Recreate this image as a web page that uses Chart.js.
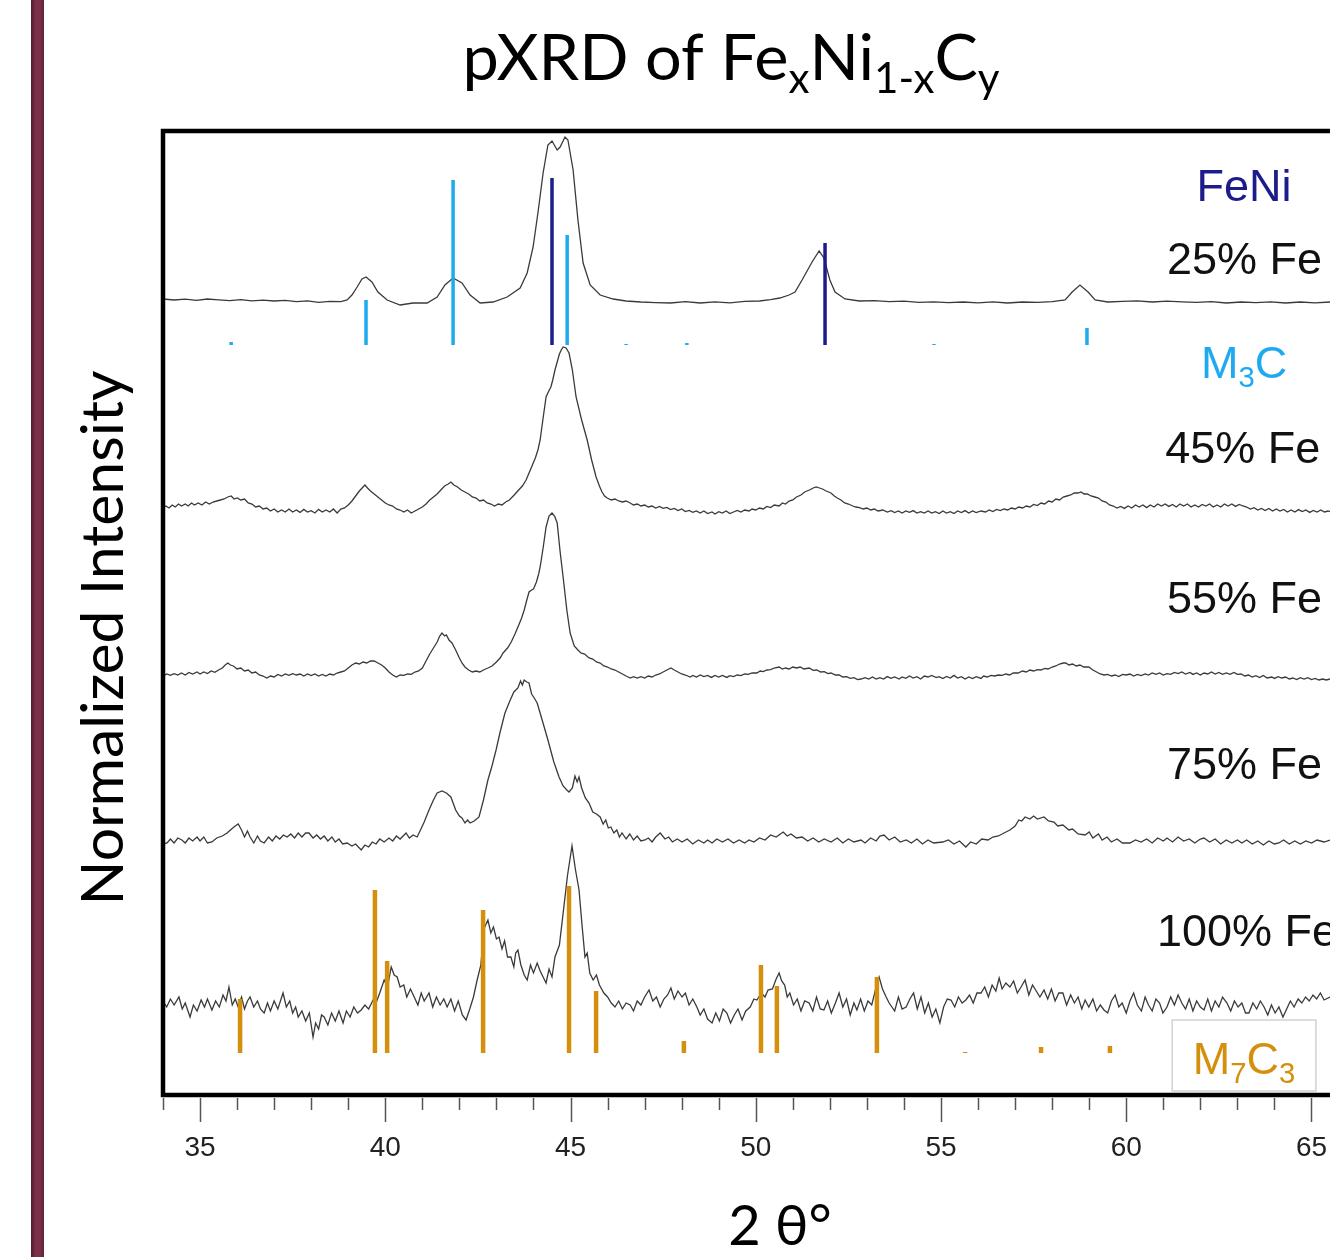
<!DOCTYPE html>
<html>
<head>
<meta charset="utf-8">
<script src="https://cdn.jsdelivr.net/npm/chart.js@4.4.0/dist/chart.umd.min.js"></script>
<style>
  html, body { margin: 0; padding: 0; background: #fff; overflow: hidden; }
  #wrap { position: relative; width: 1330px; height: 1257px; }
  #bar { position: absolute; left: 31px; top: 0; width: 13px; height: 1257px;
         background: linear-gradient(to right, #4c1a2b, #7c2f48 35%, #7c2f48 70%, #5e2236); }
  #xrd { position: absolute; left: 0; top: 0; }
</style>
</head>
<body>
<div id="wrap">
  <div id="bar"></div>
  <canvas id="xrd" width="1330" height="1257"></canvas>
</div>
<script>
// 2-theta range of the plot
var thetaMin = 34;
var thetaMax = 65.5;
var intensityMax = 482;

// vertical offsets of the stacked patterns
var sampleNames   = ['25% Fe', '45% Fe', '55% Fe', '75% Fe', '100% Fe'];
var sampleOffsets = [396.5, 292.5, 209.5, 126.5, 45];

// [2theta, intensity above the pattern's own baseline]
var pattern25 = [[34.0,1.5],[34.3,1.0],[34.6,1.4],[34.9,0.8],[35.2,1.5],[35.5,1.1],[35.8,0.7],[36.1,1.2],[36.4,0.6],[36.7,0.9],
  [37.0,0.5],[37.3,0.8],[37.6,0.2],[37.9,0.6],[38.2,-0.2],[38.5,0.3],[38.8,0.2],[38.97,1.0],[39.1,3.5],[39.24,7.5],
  [39.37,11.5],[39.48,12.5],[39.64,10],[39.8,5],[40.05,1],[40.4,-1.5],[40.75,-0.5],[41.13,-0.5],[41.4,2.5],[41.61,8.5],
  [41.83,12],[42.07,9.5],[42.29,3.5],[42.56,-0.5],[42.91,0],[43.29,2.5],[43.64,7],[43.83,14.5],[43.99,27.5],[44.12,44.5],
  [44.26,64.5],[44.39,78.5],[44.5,80.5],[44.64,76],[44.72,77.5],[44.85,82.5],[44.93,81],[45.07,66],[45.2,41],[45.34,19.5],
  [45.53,8.5],[45.8,3.5],[46.15,1.5],[46.5,0.5],[46.9,0],[47.3,-0.3],[47.7,-0.5],[48.1,0.2],[48.5,-0.5],[48.9,0.1],
  [49.3,-0.4],[49.7,0.3],[50.1,0.5],[50.4,1.2],[50.65,2],[50.9,3.5],[51.06,5],[51.25,11],[51.52,20],[51.71,25.5],
  [51.84,22],[52.0,11],[52.14,5],[52.41,1.5],[52.8,0.5],[53.2,0.7],[53.6,0.2],[54.0,0.4],[54.4,-0.2],[54.8,0.1],
  [55.2,-0.3],[55.6,0],[56.0,-0.4],[56.4,0.1],[56.8,-0.5],[57.2,0],[57.6,-0.2],[58.0,0.2],[58.35,1],[58.54,5],
  [58.75,8.5],[58.97,5],[59.16,1],[59.5,0],[59.9,0.3],[60.3,0.6],[60.7,0],[61.1,0.4],[61.5,0.1],[61.9,-0.2],
  [62.3,0.2],[62.7,-0.5],[63.1,0],[63.5,-0.3],[63.9,0.1],[64.3,-0.5],[64.7,0],[65.1,-0.4],[65.5,0]];

var pattern45 = [[34.0,1],[34.08,2],[34.16,1],[34.25,2.5],[34.33,1.5],[34.42,3],[34.5,2],[34.6,3],[34.68,2],[34.77,3.5],
  [34.85,2.5],[34.95,3.5],[35.05,2.5],[35.15,4],[35.25,3],[35.35,4],[35.45,4.5],[35.55,5],[35.65,5.5],[35.75,6.5],
  [35.84,7],[35.92,5.5],[36.0,6],[36.1,5],[36.2,5.5],[36.3,3.5],[36.4,3],[36.5,1.5],[36.6,2],[36.7,0.5],
  [36.8,1],[36.9,-0.5],[37.0,0.5],[37.1,-1],[37.2,0],[37.3,-1],[37.4,0.5],[37.5,-1],[37.6,0],[37.7,-1.2],
  [37.8,0.3],[37.9,-1],[38.0,-0.3],[38.1,-1.5],[38.2,0.3],[38.3,-1],[38.4,0],[38.5,-1],[38.6,0.5],[38.7,-1.5],
  [38.8,0.5],[38.9,1],[39.0,2.5],[39.1,4.5],[39.2,7],[39.3,9.5],[39.4,11.5],[39.45,12.5],[39.52,11],[39.6,9.5],
  [39.7,8],[39.8,6.5],[39.9,5],[40.0,3.5],[40.1,2.5],[40.2,2],[40.3,0.5],[40.4,0],[40.5,-1],[40.6,0],
  [40.7,-1.5],[40.8,-0.5],[40.9,0.5],[41.0,1.5],[41.1,3],[41.2,5],[41.3,6.5],[41.4,8],[41.5,10],[41.6,12],
  [41.7,13],[41.77,14],[41.85,12.5],[41.95,11.5],[42.05,10],[42.15,9],[42.25,8],[42.35,6.5],[42.45,6],[42.55,4.5],
  [42.65,5],[42.75,3.5],[42.85,3],[42.95,2],[43.05,3],[43.15,2.5],[43.25,4],[43.35,5],[43.48,7.5],[43.6,10],
  [43.7,12],[43.8,15],[43.88,18.5],[43.96,22],[44.05,26],[44.12,30],[44.18,35],[44.26,46],[44.34,56.5],[44.4,59],
  [44.47,61.5],[44.52,65],[44.58,70],[44.64,74],[44.7,78],[44.75,80],[44.8,81.5],[44.88,81],[44.96,78.5],[45.05,70],
  [45.15,56.5],[45.3,45],[45.45,35],[45.57,25],[45.69,16.5],[45.78,12],[45.85,9],[45.92,7],[45.99,6],[46.1,5],
  [46.2,5.5],[46.3,4.5],[46.4,4],[46.5,4.5],[46.61,3.5],[46.7,2.5],[46.8,3],[46.9,2],[47.0,2.5],[47.1,1.5],
  [47.2,2],[47.3,1],[47.4,1.8],[47.5,0.8],[47.6,1.3],[47.7,0.2],[47.8,0.8],[47.9,-0.3],[48.0,0.5],[48.1,-0.8],
  [48.2,-0.2],[48.3,-1.2],[48.4,-0.5],[48.5,-1.5],[48.6,-0.5],[48.7,-1.8],[48.82,-1],[48.9,-2],[49.0,-0.8],[49.1,-1.5],
  [49.2,-0.5],[49.3,-1.8],[49.4,-1],[49.5,-0.2],[49.6,-1],[49.7,0],[49.82,-0.5],[49.9,0.5],[50.0,0],[50.1,1],
  [50.2,0.5],[50.3,1.8],[50.4,1.2],[50.5,2.5],[50.63,2],[50.72,3.5],[50.8,3],[50.9,4.5],[51.0,5],[51.1,6.5],
  [51.22,7.5],[51.32,9],[51.45,10],[51.55,11],[51.63,11.5],[51.72,11],[51.8,10.5],[51.9,9.5],[52.03,8.5],[52.12,7],
  [52.2,6],[52.3,5],[52.4,3.5],[52.5,3],[52.62,2],[52.7,1.5],[52.8,1.2],[52.9,0.5],[53.0,1],[53.1,0],
  [53.2,0.5],[53.3,-0.5],[53.43,0],[53.55,-1],[53.65,-0.3],[53.75,-1.3],[53.85,-0.5],[53.95,-1.5],[54.05,-0.5],[54.15,-1.2],
  [54.25,-0.3],[54.35,-1.5],[54.45,-0.8],[54.55,-1.5],[54.65,-0.5],[54.75,-1.5],[54.85,-0.8],[54.95,-1.8],[55.05,-0.5],[55.15,-1.5],
  [55.25,-0.8],[55.35,-1.8],[55.45,-0.5],[55.55,-1.3],[55.65,-0.3],[55.75,-1.5],[55.85,-0.5],[55.95,-1.3],[56.08,-0.5],[56.2,-1],
  [56.3,0],[56.4,-0.8],[56.5,0.3],[56.6,-0.3],[56.7,0.5],[56.8,0],[56.9,1],[57.0,0.5],[57.1,1.5],[57.2,1],
  [57.3,2],[57.4,1.5],[57.5,2.8],[57.6,2.2],[57.7,3.5],[57.8,3],[57.9,4.5],[58.0,4],[58.1,5.5],[58.2,5],
  [58.3,6.5],[58.4,7],[58.5,7.5],[58.6,8.5],[58.7,8.5],[58.78,9],[58.86,8],[58.95,8],[59.05,7],[59.15,6.5],
  [59.25,6],[59.35,4.5],[59.45,4],[59.55,2.5],[59.65,2],[59.75,1],[59.85,1.8],[59.95,0.8],[60.05,2],[60.15,1],
  [60.25,2.5],[60.35,1.5],[60.45,2.5],[60.55,1.2],[60.65,2.5],[60.75,1.5],[60.85,3],[60.95,2],[61.05,3],[61.15,1.8],
  [61.25,2.8],[61.35,1.5],[61.45,3],[61.55,2],[61.65,3],[61.75,1.5],[61.85,2.5],[61.95,1.5],[62.05,2.8],[62.15,2],
  [62.25,3],[62.35,1.5],[62.45,2.5],[62.55,1.5],[62.65,3],[62.75,2],[62.85,3],[62.95,1.8],[63.05,2.8],[63.15,2],
  [63.25,1.5],[63.35,0.5],[63.45,1.2],[63.55,0],[63.65,0.8],[63.75,-0.3],[63.85,0.8],[63.95,-0.5],[64.05,0.5],[64.15,-0.5],
  [64.25,0.3],[64.35,-1],[64.45,0],[64.55,-1],[64.65,0.2],[64.75,-0.8],[64.85,0],[64.95,-1.2],[65.05,-0.2],[65.15,-1],
  [65.25,0],[65.35,-1],[65.45,-0.5],[65.5,-0.8]];

var pattern55 = [[34.0,0],[34.1,1],[34.2,0.3],[34.3,1.2],[34.4,0.5],[34.5,1.5],[34.6,0.5],[34.7,1.8],[34.8,1],[34.92,2],
  [35.0,1],[35.1,2],[35.2,1.2],[35.3,2.5],[35.4,1.8],[35.5,3],[35.6,4],[35.68,5.5],[35.75,6.5],[35.82,5.5],
  [35.9,5],[36.0,3.5],[36.1,4],[36.2,2.5],[36.3,3],[36.4,1.5],[36.5,2],[36.6,0.5],[36.7,0],[36.8,-1],
  [36.9,0],[37.0,-0.5],[37.1,0.8],[37.2,0],[37.3,1],[37.4,0.3],[37.5,1.2],[37.6,0.5],[37.7,1],[37.8,0],
  [37.9,1],[38.0,0.2],[38.1,1],[38.2,0],[38.3,0.8],[38.4,0],[38.5,1],[38.6,0.5],[38.7,1.5],[38.8,2],
  [38.9,2.5],[39.0,4],[39.1,5.5],[39.2,6.5],[39.3,6],[39.4,7],[39.5,6.5],[39.6,7.5],[39.7,7.5],[39.8,6.5],
  [39.9,5.5],[40.0,4],[40.1,2],[40.2,0.5],[40.3,-0.5],[40.4,0.5],[40.5,0.3],[40.6,1],[40.7,0.8],[40.8,2],
  [40.9,2.5],[41.0,4],[41.1,7.5],[41.2,11],[41.3,14],[41.4,17],[41.47,20],[41.53,21.5],[41.6,20],[41.65,20.5],
  [41.72,18],[41.8,16.5],[41.9,13],[42.0,9],[42.07,6.5],[42.15,4.5],[42.25,3],[42.35,2],[42.45,2.5],[42.55,2],
  [42.65,3],[42.77,4],[42.88,5],[43.0,7],[43.1,9],[43.18,11.5],[43.3,14],[43.4,17],[43.5,21],[43.58,24.5],
  [43.68,29],[43.75,33],[43.82,38],[43.88,42],[43.95,43],[44.0,43.5],[44.08,47],[44.14,51],[44.18,54.5],[44.26,64],
  [44.34,74.5],[44.42,80],[44.5,81.5],[44.57,80],[44.64,76.5],[44.72,62],[44.8,49.5],[44.9,33],[44.99,21.5],[45.1,15],
  [45.2,13],[45.28,11.5],[45.38,11],[45.5,9],[45.6,8.5],[45.7,7],[45.8,6.5],[45.9,5],[46.0,4.5],[46.1,3.5],
  [46.2,3],[46.3,2],[46.4,1],[46.5,0],[46.61,-1],[46.7,-0.3],[46.8,-1],[46.9,-0.3],[47.0,-1],[47.1,0],
  [47.2,-0.5],[47.3,0.5],[47.4,1],[47.5,2],[47.6,3],[47.71,4],[47.8,3],[47.9,2],[48.0,1],[48.1,0.5],
  [48.23,-0.5],[48.3,0.3],[48.4,-0.5],[48.5,0.5],[48.6,-0.3],[48.7,0.3],[48.8,-0.7],[48.9,0.3],[49.0,-0.5],[49.1,0.3],
  [49.22,-0.7],[49.3,0.2],[49.4,-0.3],[49.5,0.5],[49.6,0.2],[49.7,1],[49.8,0.8],[49.9,1.5],[50.03,1.5],[50.12,2.5],
  [50.2,2.2],[50.3,3],[50.4,3.2],[50.5,4],[50.63,4.5],[50.72,3.5],[50.8,4],[50.9,3.5],[51.0,4.5],[51.1,4],
  [51.2,4.5],[51.3,3.5],[51.44,4],[51.55,2.8],[51.65,3],[51.75,2],[51.85,2.2],[51.95,1.2],[52.03,1.5],[52.15,0.5],
  [52.25,0.5],[52.35,-0.5],[52.45,-0.3],[52.55,-1.2],[52.65,-0.8],[52.75,-1.8],[52.84,-1.5],[52.95,-0.8],[53.05,-1.5],[53.15,-0.5],
  [53.25,-1.5],[53.35,-0.8],[53.45,-1.5],[53.55,-0.3],[53.65,-1.2],[53.75,-0.5],[53.87,-1.5],[53.95,-0.5],[54.05,-1.2],[54.15,0],
  [54.25,-1],[54.35,-0.3],[54.45,-1.5],[54.55,0],[54.65,-0.5],[54.75,0.3],[54.87,-0.8],[54.95,-0.3],[55.05,-1.3],[55.15,-0.2],
  [55.25,-1],[55.35,0.3],[55.45,-1],[55.55,-0.3],[55.65,-1.5],[55.75,-0.5],[55.85,-1.3],[55.95,-0.3],[56.08,-1.2],[56.15,0],
  [56.25,-0.5],[56.35,0.3],[56.45,0],[56.55,0.5],[56.65,0.3],[56.75,1],[56.85,0.5],[56.95,1.5],[57.08,1.5],[57.2,2.5],
  [57.3,2],[57.4,3],[57.5,2.5],[57.6,3.2],[57.7,3],[57.8,3.8],[57.89,3.5],[58.0,4.5],[58.1,5],[58.2,6],
  [58.3,6.5],[58.37,6.5],[58.45,5.5],[58.55,6],[58.65,5],[58.75,5.5],[58.85,4.5],[58.99,4.5],[59.1,3],[59.2,2],
  [59.3,1],[59.4,0.5],[59.5,0.8],[59.6,0],[59.7,0.5],[59.8,-0.3],[59.9,0.8],[60.0,0.5],[60.1,1],[60.2,0],
  [60.3,0.8],[60.4,0.2],[60.51,1],[60.6,0.5],[60.7,1.5],[60.8,0.8],[60.9,1.5],[61.0,0.5],[61.1,1.2],[61.2,0.8],
  [61.3,1.8],[61.4,1.2],[61.5,2],[61.6,1],[61.72,1.8],[61.8,0.8],[61.9,1.5],[62.0,0.5],[62.1,1.5],[62.2,1],
  [62.3,2],[62.4,1],[62.5,1.8],[62.6,0.8],[62.7,1.5],[62.8,0.8],[62.91,1.8],[63.0,0.8],[63.1,1],[63.2,0],
  [63.3,0.5],[63.4,-0.5],[63.5,0.2],[63.6,-0.8],[63.7,0.3],[63.8,-1],[63.93,-0.5],[64.0,-1.2],[64.1,-0.3],[64.2,-1],
  [64.3,-0.5],[64.4,-1.5],[64.5,-1],[64.6,-1.8],[64.7,-0.8],[64.8,-1.5],[64.9,-0.8],[65.0,-1.8],[65.1,-1.2],[65.2,-2],
  [65.3,-1.5],[65.4,-2],[65.5,-1.5]];

var pattern75 = [[34.0,-1],[34.11,-0.5],[34.2,1.5],[34.3,-0.5],[34.4,2],[34.51,1],[34.6,-0.5],[34.7,2],[34.8,0.5],[34.92,2.5],
  [35.0,0.5],[35.1,2.5],[35.2,-0.5],[35.32,0],[35.45,2],[35.6,3],[35.73,4.5],[35.85,6.5],[35.95,8],[36.03,9],
  [36.12,6],[36.2,2.5],[36.28,5.5],[36.35,2.5],[36.45,-0.5],[36.55,3],[36.63,0.5],[36.73,-0.5],[36.85,2.5],[36.95,0.5],
  [37.05,3],[37.15,1.5],[37.25,3.5],[37.35,2.5],[37.45,4],[37.55,2],[37.65,4.5],[37.75,2.5],[37.85,4.5],[37.94,4.5],
  [38.05,2],[38.15,3.5],[38.25,1.5],[38.35,3],[38.45,0.5],[38.56,2.5],[38.65,0],[38.75,1.5],[38.85,-1],[38.97,-0.5],
  [39.1,-2],[39.2,-1],[39.35,-4],[39.45,-1.5],[39.55,-2.5],[39.65,0],[39.75,-1],[39.85,1.5],[39.97,0],[40.1,2],
  [40.2,0.5],[40.3,3],[40.4,1.5],[40.56,4.5],[40.65,2],[40.75,3.5],[40.86,2.5],[40.95,6],[41.05,10],[41.18,16],
  [41.3,21],[41.4,24.5],[41.53,25.5],[41.65,24.5],[41.77,22.5],[41.9,16],[42.0,13],[42.07,12],[42.15,9.5],[42.22,11],
  [42.29,9.5],[42.4,10.5],[42.53,12.5],[42.65,21],[42.77,31],[42.88,38],[42.99,46],[43.1,55],[43.23,64.5],[43.35,70],
  [43.47,75],[43.58,77],[43.65,80.5],[43.7,78.5],[43.75,81],[43.82,80],[43.88,79.5],[43.95,74],[44.02,72],[44.1,69.5],
  [44.25,60],[44.39,51],[44.55,40],[44.69,32.5],[44.8,28],[44.9,26],[44.96,25],[45.05,27],[45.12,33],[45.18,30],
  [45.23,32.5],[45.3,27],[45.4,22],[45.5,19.5],[45.6,15],[45.7,14],[45.8,12.5],[45.88,9],[45.95,11],[46.02,7],
  [46.09,7.5],[46.17,4.5],[46.25,6],[46.32,2.5],[46.39,4.5],[46.5,1.5],[46.6,4],[46.7,1],[46.8,3],[46.9,0.5],
  [47.01,1],[47.1,2],[47.2,0],[47.3,2.5],[47.42,4.5],[47.55,1.5],[47.65,2.5],[47.75,0],[47.88,1.5],[48.01,0],
  [48.15,1.5],[48.3,-1],[48.45,1],[48.6,-0.5],[48.7,1],[48.82,-0.5],[48.95,1.5],[49.1,0],[49.25,1.5],[49.4,-0.5],
  [49.55,1],[49.7,-0.5],[49.82,1],[49.95,0],[50.1,2],[50.25,1],[50.4,3.5],[50.55,2.5],[50.74,5],[50.85,3],
  [50.95,4],[51.1,2],[51.25,2.5],[51.4,0.5],[51.55,2],[51.7,0],[51.85,1.5],[52.03,0],[52.2,2],[52.35,-0.5],
  [52.5,1.5],[52.65,0],[52.84,1],[52.95,-0.5],[53.1,2],[53.25,0.5],[53.35,3],[53.46,3.5],[53.6,1],[53.75,2.5],
  [53.9,0],[54.06,1],[54.2,-0.5],[54.35,1.5],[54.5,-1],[54.65,1],[54.8,-0.5],[55.05,0],[55.2,1],[55.35,-1],
  [55.5,0.5],[55.67,-2.5],[55.8,0],[55.95,-1],[56.1,1.5],[56.27,1],[56.4,2.5],[56.55,3],[56.7,4.5],[56.86,6],
  [57.0,8],[57.1,11],[57.18,10.5],[57.27,12.5],[57.4,11.5],[57.5,13],[57.6,11.5],[57.78,12.5],[57.9,10.5],[58.05,10],
  [58.15,8],[58.29,8.5],[58.45,6],[58.55,6.5],[58.7,4],[58.89,3.5],[59.0,5],[59.1,2],[59.25,4],[59.35,1],
  [59.48,2.5],[59.6,0],[59.75,1.5],[59.9,-0.5],[60.1,-0.5],[60.25,1],[60.4,0],[60.55,1.5],[60.7,-0.5],[60.85,2],
  [61.0,0.5],[61.1,2],[61.25,0],[61.4,2.5],[61.55,0.5],[61.7,1.5],[61.85,-0.5],[62.0,1.5],[62.1,2],[62.25,0],
  [62.4,1.5],[62.55,-1],[62.7,1],[62.85,-0.5],[63.0,1],[63.12,-0.5],[63.25,1],[63.4,-1],[63.55,0.5],[63.7,-1.5],
  [63.85,0.5],[64.0,-1],[64.12,-0.5],[64.25,1],[64.4,-1],[64.55,0.5],[64.7,-1],[64.85,0.5],[65.0,-0.5],[65.15,1],
  [65.34,0],[65.5,1]];

var pattern100 = [[34.0,2],[34.1,-1],[34.2,3],[34.3,0],[34.43,4],[34.52,-2],[34.6,1],[34.73,-6],[34.82,0],[34.92,-3],
  [35.03,2.5],[35.12,-1],[35.2,3],[35.32,-2.5],[35.42,2],[35.52,-1],[35.62,5],[35.7,2],[35.78,9],[35.87,0],
  [35.95,3],[36.03,-1],[36.12,4],[36.2,-2],[36.28,2],[36.35,4],[36.45,-1],[36.55,2],[36.63,-2],[36.73,-4],
  [36.82,1],[36.9,-3],[37.0,2],[37.1,-2],[37.24,6],[37.33,-1],[37.42,2],[37.5,-4],[37.58,-1],[37.65,-6],
  [37.75,-3],[37.85,-8],[37.95,-4],[38.05,-16],[38.12,-9],[38.2,-12],[38.28,-5],[38.35,-6],[38.45,-10],[38.55,-4],
  [38.65,-8],[38.75,-3],[38.86,-9],[38.95,-3],[39.05,-6],[39.15,-1],[39.25,-4],[39.35,-2.5],[39.45,0],[39.55,-2],
  [39.67,2.5],[39.75,1],[39.85,6],[39.97,12.5],[40.06,9],[40.16,19],[40.24,15],[40.32,14],[40.4,9],[40.5,10],
  [40.58,4],[40.68,8],[40.78,4],[40.88,0],[40.97,6],[41.05,2],[41.18,6],[41.28,-1],[41.38,4],[41.48,0],
  [41.58,3],[41.67,-1],[41.77,3],[41.87,-3],[41.97,2],[42.08,-5],[42.18,-7.5],[42.28,-2],[42.38,4],[42.48,12.5],
  [42.58,20],[42.66,38],[42.77,42.5],[42.85,36],[42.92,39],[43.0,33],[43.07,34],[43.15,28],[43.22,32],[43.3,24],
  [43.39,24],[43.47,19],[43.52,26],[43.58,27.5],[43.66,20],[43.75,15],[43.83,12.5],[43.92,20],[44.0,16],[44.1,21],
  [44.18,17],[44.26,14],[44.34,11],[44.42,18],[44.5,14],[44.58,24],[44.7,30],[44.82,49],[44.92,65],[45.04,79.5],
  [45.13,68],[45.23,57.5],[45.31,40],[45.39,24],[45.45,26],[45.52,16],[45.61,12.5],[45.7,15],[45.78,10],[45.9,6],
  [46.0,4],[46.1,1],[46.2,-1],[46.3,2],[46.4,-2],[46.5,1],[46.61,0],[46.7,-3],[46.8,2],[46.9,0],
  [47.0,4],[47.12,7.5],[47.22,2],[47.32,4],[47.42,-1],[47.52,3],[47.62,5],[47.71,8.5],[47.8,3],[47.9,7],
  [48.01,4],[48.1,6],[48.2,0],[48.3,3],[48.41,-1],[48.5,-5],[48.6,-2],[48.7,-7],[48.82,-9],[48.92,-4],
  [49.02,-8],[49.12,-2],[49.22,-4],[49.32,-9],[49.42,-5],[49.52,-2],[49.63,-7.5],[49.73,-3],[49.85,-1],[49.95,3],
  [50.03,2.5],[50.15,6],[50.25,4],[50.33,7.5],[50.45,8],[50.55,13],[50.63,16],[50.7,12],[50.78,10],[50.85,4],
  [50.92,6],[51.02,0],[51.12,3],[51.22,-3],[51.32,2],[51.44,1],[51.54,-3],[51.64,4],[51.74,-2],[51.84,-2.5],
  [51.94,2],[52.04,-4],[52.15,1],[52.25,6],[52.35,-1],[52.45,3],[52.55,-5],[52.65,1],[52.73,-2.5],[52.83,3],
  [52.93,-3],[53.03,2],[53.13,0],[53.25,9],[53.33,14],[53.42,8],[53.52,4],[53.6,1],[53.75,-3],[53.85,4],
  [53.95,-2],[54.06,-1],[54.16,3],[54.26,6],[54.36,-2],[54.46,4],[54.56,-4],[54.66,1],[54.76,-6],[54.86,-2],
  [54.97,-9],[55.07,-1],[55.17,3],[55.27,2.5],[55.37,-1],[55.47,4],[55.57,1],[55.67,2.5],[55.77,5],[55.87,1],
  [55.97,6],[56.08,6],[56.18,9],[56.28,4],[56.38,10],[56.48,7],[56.57,13.5],[56.65,8],[56.75,11],[56.86,9],
  [56.96,12],[57.06,6],[57.16,9],[57.27,12.5],[57.37,5],[57.47,10],[57.57,7],[57.67,4],[57.78,7.5],[57.88,3],
  [57.98,8],[58.08,2],[58.18,6],[58.29,6],[58.39,0],[58.5,5],[58.6,1],[58.7,4],[58.8,-2],[58.89,2.5],
  [58.99,-1],[59.1,3],[59.2,-3],[59.3,0],[59.4,-2.5],[59.5,-4],[59.6,2],[59.7,5],[59.8,-1],[59.89,1],
  [60.0,-4],[60.1,2],[60.2,6],[60.3,0],[60.41,-3],[60.51,4],[60.6,0],[60.7,-3],[60.8,3],[60.9,1],
  [60.99,-4],[61.1,-1],[61.2,4],[61.3,0],[61.4,5],[61.5,1],[61.6,-2],[61.7,3],[61.8,-3],[61.9,2],
  [62.0,-1],[62.1,-2.5],[62.2,3],[62.3,-3],[62.4,2],[62.5,-1],[62.6,4],[62.72,1],[62.82,-3],[62.92,2],
  [63.02,-1],[63.12,1],[63.22,-4],[63.31,-4],[63.42,1],[63.52,-2],[63.62,2],[63.72,-1],[63.82,-5],[63.92,0],
  [64.02,-4],[64.12,-1],[64.23,-6],[64.33,-2],[64.43,2],[64.53,-1],[64.64,3],[64.74,1],[64.84,4],[64.94,2],
  [65.04,5],[65.14,3],[65.24,6],[65.34,2.5],[65.5,4]];

var samplePatterns = [pattern25, pattern45, pattern55, pattern75, pattern100];

// reference stick patterns: positions and heights above their base line
var feniTheta  = [44.50, 51.87];
var feniHeight = [83.5, 51];
var m3cTheta   = [35.84, 39.48, 41.83, 44.91, 46.50, 48.14, 54.81, 58.94];
var m3cHeight  = [1.5, 22.5, 82.5, 55, 0.5, 1, 0.5, 8.5];
var topStickBase = 375;
var m7c3Theta  = [36.08, 39.72, 40.05, 42.64, 44.96, 45.69, 48.06, 50.14, 50.57, 53.27, 55.65, 57.70, 59.56];
var m7c3Height = [27, 81.5, 46, 71.5, 83.5, 31, 6, 44, 33.5, 38, 0.5, 3, 3.5];
var bottomStickBase = 21;

// label anchors (2theta of left edge, intensity of text middle)
var sampleLabelTheta = [61.10, 61.05, 61.10, 61.10, 60.83];
var sampleLabelY     = [418.5, 324, 249, 166, 82.5];

var NAVY   = '#1c1c8a';
var SKY    = '#1eaaee';
var AMBER  = '#d4900c';
var TRACE  = '#3a3a3a';

var toSticks = function toSticks(thetas, heights, base) {
   var points = [];
   thetas.forEach((t, i) => {
      points.push({x: t, y: base});
      points.push({x: t, y: base + heights[i]});
      points.push({x: t, y: null});
   });
   return points;
};

var datasets = [];
datasets.push({ label: 'FeNi', data: toSticks(feniTheta, feniHeight, topStickBase), borderColor: NAVY, borderWidth: 3.5, borderCapStyle: 'butt', spanGaps: false, order: 0 });
datasets.push({ label: 'M3C', data: toSticks(m3cTheta, m3cHeight, topStickBase), borderColor: SKY, borderWidth: 3.5, borderCapStyle: 'butt', spanGaps: false, order: 0 });
datasets.push({ label: 'M7C3', data: toSticks(m7c3Theta, m7c3Height, bottomStickBase), borderColor: AMBER, borderWidth: 4.5, borderCapStyle: 'butt', spanGaps: false, order: 0 });
samplePatterns.forEach((pattern, i) => {
   datasets.push({
      label: sampleNames[i],
      data: pattern.map(p => ({x: p[0], y: sampleOffsets[i] + p[1]})),
      borderColor: TRACE,
      borderWidth: 1.3,
      order: 1
   });
});

var measureRich = function measureRich(ctx, segs, size, family) {
   var w = 0;
   segs.forEach(s => {
      ctx.font = (s.sub ? size * 0.65 : size) + 'px ' + family;
      w += ctx.measureText(s.t).width;
   });
   return w;
};

var drawRich = function drawRich(ctx, segs, x, y, size, family, align) {
   var w = measureRich(ctx, segs, size, family);
   var cx = align === 'center' ? x - w / 2 : (align === 'right' ? x - w : x);
   ctx.textAlign = 'left';
   ctx.textBaseline = 'alphabetic';
   segs.forEach(s => {
      ctx.font = (s.sub ? size * 0.65 : size) + 'px ' + family;
      ctx.fillText(s.t, cx, y + (s.sub ? size * 0.2 : 0));
      cx += ctx.measureText(s.t).width;
   });
};

var decorations = {
   id: 'decorations',
   afterDatasetsDraw: function(chart) {
      var ctx = chart.ctx;
      var area = chart.chartArea;
      var xs = chart.scales.x;
      var ys = chart.scales.y;
      ctx.save();
      // M7C3 legend box
      var bx0 = xs.getPixelForValue(61.24), bx1 = xs.getPixelForValue(65.12);
      var by0 = ys.getPixelForValue(37.5), by1 = ys.getPixelForValue(2);
      ctx.fillStyle = '#fff';
      ctx.fillRect(bx0, by0, bx1 - bx0, by1 - by0);
      ctx.strokeStyle = '#d2d2d2';
      ctx.lineWidth = 1.5;
      ctx.strokeRect(bx0, by0, bx1 - bx0, by1 - by0);
      // frame
      ctx.strokeStyle = '#000';
      ctx.lineWidth = 4.5;
      ctx.beginPath();
      ctx.moveTo(area.right + 10, area.top);
      ctx.lineTo(area.left, area.top);
      ctx.lineTo(area.left, area.bottom);
      ctx.lineTo(area.right + 10, area.bottom);
      ctx.stroke();
      // tick marks
      ctx.strokeStyle = '#555';
      ctx.lineWidth = 1.5;
      for (var v = Math.ceil(thetaMin); v <= thetaMax; v++) {
         var px = Math.round(xs.getPixelForValue(v)) + 0.5;
         ctx.beginPath();
         ctx.moveTo(px, area.bottom + 3);
         ctx.lineTo(px, area.bottom + (v % 5 === 0 ? 27 : 15));
         ctx.stroke();
      }
      ctx.restore();
   },
   afterDraw: function(chart) {
      var ctx = chart.ctx;
      var xs = chart.scales.x;
      var ys = chart.scales.y;
      var titleFont = 'Lato, "Open Sans", sans-serif';
      var labelFont = '"Liberation Sans", Arial, sans-serif';
      ctx.save();
      // title
      var title = [{t: 'pXRD of Fe'}, {t: 'x', sub: 1}, {t: 'Ni'}, {t: '1-x', sub: 1}, {t: 'C'}, {t: 'y', sub: 1}];
      var tSize = 70 * 537 / measureRich(ctx, title, 70, titleFont);
      ctx.fillStyle = '#000';
      drawRich(ctx, title, 731, 80, tSize, titleFont, 'center');
      // y axis title
      var yTitle = [{t: 'Normalized Intensity'}];
      var ySize = 60 * 535 / measureRich(ctx, yTitle, 60, titleFont);
      ctx.save();
      ctx.translate(123, 638);
      ctx.rotate(-Math.PI / 2);
      drawRich(ctx, yTitle, 0, 0, ySize, titleFont, 'center');
      ctx.restore();
      // x axis title
      drawRich(ctx, [{t: '2 \u03b8\u00b0'}], 780, 1245, 56, titleFont, 'center');
      // sample labels
      var lSize = 45;
      sampleNames.forEach((name, i) => {
         ctx.fillStyle = '#111';
         drawRich(ctx, [{t: name}], xs.getPixelForValue(sampleLabelTheta[i]), ys.getPixelForValue(sampleLabelY[i]) + lSize * 0.36, lSize, labelFont, 'left');
      });
      // phase labels
      var cx = xs.getPixelForValue(63.18);
      ctx.fillStyle = NAVY;
      drawRich(ctx, [{t: 'FeNi'}], cx, ys.getPixelForValue(455) + lSize * 0.36, lSize, labelFont, 'center');
      ctx.fillStyle = SKY;
      drawRich(ctx, [{t: 'M'}, {t: '3', sub: 1}, {t: 'C'}], cx, ys.getPixelForValue(366.5) + lSize * 0.36, lSize, labelFont, 'center');
      ctx.fillStyle = AMBER;
      drawRich(ctx, [{t: 'M'}, {t: '7', sub: 1}, {t: 'C'}, {t: '3', sub: 1}], cx, ys.getPixelForValue(18.5) + lSize * 0.36, lSize, labelFont, 'center');
      ctx.restore();
   }
};

var chart = new Chart(document.getElementById('xrd'), {
   type: 'line',
   data: { datasets: datasets },
   options: {
      responsive: false,
      animation: false,
      layout: { autoPadding: false, padding: { left: 163, top: 131, right: 0, bottom: 0 } },
      elements: { point: { radius: 0 }, line: { tension: 0 } },
      scales: {
         x: {
            type: 'linear',
            min: thetaMin,
            max: thetaMax,
            afterFit: function(scale) { scale.height = 162; },
            border: { display: false },
            grid: { drawOnChartArea: false, tickLength: 36, tickColor: 'rgba(0,0,0,0)' },
            ticks: {
               stepSize: 1,
               autoSkip: false,
               maxRotation: 0,
               includeBounds: false,
               padding: 0,
               color: '#222',
               font: { family: '"Liberation Sans", Arial, sans-serif', size: 28 },
               callback: function(value) { return value % 5 === 0 ? String(value) : ''; }
            }
         },
         y: { display: false, min: 0, max: intensityMax }
      },
      plugins: { legend: { display: false }, tooltip: { enabled: false } }
   },
   plugins: [decorations]
});
</script>
</body>
</html>
